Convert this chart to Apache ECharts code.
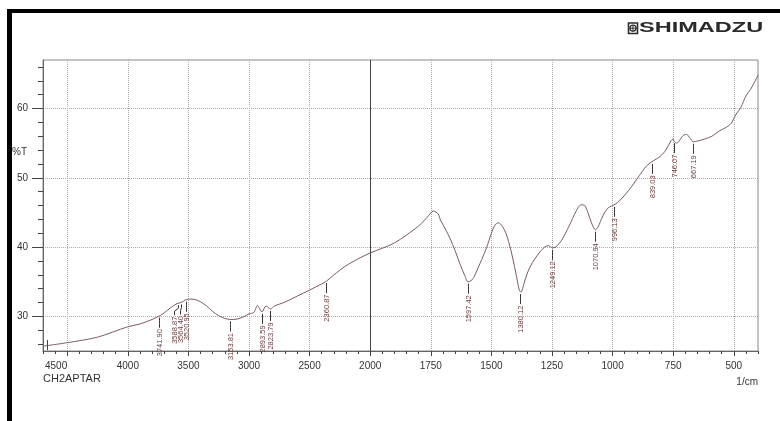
<!DOCTYPE html>
<html>
<head>
<meta charset="utf-8">
<script src="https://cdn.jsdelivr.net/npm/echarts@6/dist/echarts.min.js"></script>
<style>
  html, body { margin: 0; padding: 0; background: #fff; }
  #main { width: 780px; height: 421px; }
</style>
</head>
<body>
<div id="main"></div>
<script>
// spectrum (1/cm, %T)
var wavenumbers = [
  4700, 4500, 4250, 4000, 3900, 3800, 3740, 3700, 3650, 3600, 3560, 3520, 3480, 3440,
  3400, 3350, 3300, 3250, 3200, 3150, 3100, 3050, 3000, 2960, 2930, 2893, 2860, 2823,
  2790, 2700, 2600, 2500, 2400, 2360, 2300, 2200, 2100, 2000, 1900, 1800, 1760, 1740,
  1720, 1710, 1690, 1670, 1650, 1630, 1610, 1597, 1585, 1570, 1555, 1540, 1520, 1500,
  1485, 1470, 1455, 1440, 1420, 1400, 1385, 1378, 1365, 1350, 1330, 1300, 1280, 1265,
  1249, 1235, 1210, 1180, 1150, 1130, 1115, 1100, 1085, 1071, 1060, 1040, 1020, 1000,
  980, 950, 920, 890, 860, 839, 820, 800, 780, 760, 750, 746, 735, 720, 705, 695,
  680, 667, 650, 620, 590, 560, 530, 510, 490, 470, 450, 430, 410, 400
];
var transmittance = [
  25.7, 26.2, 27.0, 28.5, 28.9, 29.55, 30.06, 30.5, 31.2, 31.8, 32.0, 32.4, 32.5, 32.4,
  32.1, 31.5, 30.7, 30.1, 29.7, 29.55, 29.6, 29.9, 30.35, 30.56, 31.57, 30.64, 31.5, 31.07,
  31.5, 32.08, 32.94, 33.8, 34.68, 35.1, 35.98, 37.3, 38.3, 39.15, 40.6, 43.05, 44.5, 45.2,
  44.8, 43.9, 42.6, 41.2, 39.5, 37.6, 35.9, 35.0, 35.1, 35.8, 37.0, 38.2, 39.9, 42.0,
  43.2, 43.5, 43.0, 42.0, 39.6, 36.4, 33.8, 33.5, 34.8, 36.4, 37.8, 39.3, 40.0, 40.2,
  39.9, 40.0, 41.0, 43.0, 45.2, 46.1, 46.0, 44.8, 43.3, 42.5, 42.9, 44.5, 45.6, 46.0,
  46.4, 47.5, 48.8, 50.3, 51.7, 52.3, 52.7, 53.2, 54.0, 55.3, 55.6, 55.3, 55.0, 55.6, 56.2, 56.25,
  55.7, 55.2, 55.3, 55.6, 56.0, 56.75, 57.3, 57.9, 59.2, 60.2, 61.8, 62.8, 64.1, 64.8
];

// picked peaks
var peakWavenumbers = [3741.90, 3588.87, 3564.40, 3520.95, 3153.81, 2893.59, 2823.79, 2360.87,
  1597.42, 1380.12, 1249.12, 1070.94, 996.13, 839.03, 746.07, 667.19];
var peakTransmittance = [30.1, 31.9, 32.0, 32.4, 29.55, 30.64, 31.07, 35.1,
  35.0, 33.5, 39.9, 42.5, 46.1, 52.3, 55.3, 55.2];
var peakLabels = ['3741.90', '3588.87', '3564.40', '3520.95', '3153.81', '2893.59', '2823.79', '2360.87',
  '1597.42', '1380.12', '1249.12', '1070.94', '996.13', '839.03', '746.07', '667.19'];

var xTickLabels = [4500, 4000, 3500, 3000, 2500, 2000, 1750, 1500, 1250, 1000, 750, 500];
var yTickLabels = [30, 40, 50, 60];
var startMarker = 4665;

// the axis is compressed 2x above 2000 1/cm
function toU(w) { return w >= 2000 ? -(w - 2000) / 500 : (2000 - w) / 250; }
function fromU(u) { return u < 0 ? 2000 - u * 500 : 2000 - u * 250; }

var xMin = toU(4700), xMax = toU(400);
var xMajor = xTickLabels.map(toU);
var xMinor = [];
for (var k = -27; k <= 32; k++) { if (k % 5 !== 0) xMinor.push(k / 5); }
var yMinor = [];
for (var v = 26; v <= 66; v += 2) { if (v % 10 !== 0) yMinor.push(v); }

var spectrum = wavenumbers.map(function (w, i) { return [toU(w), transmittance[i]]; });
var peaks = peakWavenumbers.map(function (w, i) { return [toU(w), peakTransmittance[i]]; });

var font = 'Liberation Sans';
var dom = document.getElementById('main');
var myChart = echarts.init(dom, null, { renderer: 'canvas' });

var option = {
  animation: false,
  backgroundColor: '#fff',
  grid: { left: 43, right: 22, top: 60, bottom: 70, show: true, borderColor: '#888', borderWidth: 1 },
  xAxis: [
    {
      type: 'value', min: xMin, max: xMax,
      axisLine: { show: true, onZero: false, lineStyle: { color: '#666' } },
      axisTick: { show: true, customValues: xMajor, length: 5, lineStyle: { color: '#444' } },
      axisLabel: {
        customValues: xMajor, color: '#333', fontSize: 10, fontFamily: font, margin: 10,
        alignMinLabel: 'right',
        formatter: function (u) { return String(Math.round(fromU(u))); }
      },
      splitLine: { show: true, lineStyle: { type: 'dotted', color: '#aaa' } }
    },
    {
      type: 'value', min: xMin, max: xMax, position: 'bottom',
      axisLine: { show: false, onZero: false },
      axisTick: { show: true, customValues: xMinor, length: 3, lineStyle: { color: '#444' } },
      axisLabel: { show: false },
      splitLine: { show: false }
    }
  ],
  yAxis: [
    {
      type: 'value', min: 25, max: 67,
      axisLine: { show: true, onZero: false, lineStyle: { color: '#666' } },
      axisTick: { show: true, customValues: yTickLabels, length: 11, lineStyle: { color: '#444' } },
      axisLabel: { customValues: yTickLabels, color: '#333', fontSize: 10, fontFamily: font, margin: 15 },
      splitLine: { show: true, lineStyle: { type: 'dotted', color: '#aaa' } }
    },
    {
      type: 'value', min: 25, max: 67, position: 'left',
      axisLine: { show: false, onZero: false },
      axisTick: { show: true, customValues: yMinor, length: 5, lineStyle: { color: '#444' } },
      axisLabel: { show: false },
      splitLine: { show: false }
    }
  ],
  series: [
    {
      type: 'line',
      data: spectrum,
      smooth: 0.3,
      symbol: 'none',
      lineStyle: { color: '#7b5c60', width: 1 },
      markLine: {
        silent: true, symbol: 'none', label: { show: false },
        lineStyle: { color: '#444', type: 'solid', width: 1 },
        data: [
          { xAxis: 0 },
          [{ coord: [toU(startMarker), 25.1] }, { coord: [toU(startMarker), 26.6] }]
        ]
      }
    },
    {
      type: 'custom',
      data: peaks,
      z: 3,
      renderItem: function (params, api) {
        var i = params.dataIndex;
        var xs = peaks.map(function (p) { return api.coord(p)[0]; });
        var lx = xs.slice();
        for (var j = lx.length - 2; j >= 0; j--) lx[j] = Math.min(lx[j], lx[j + 1] - 6);
        var p = api.coord([api.value(0), api.value(1)]);
        var x0 = Math.round(p[0]) + 0.5, y0 = p[1];
        var x1 = Math.round(lx[i]) + 0.5;
        return {
          type: 'group',
          children: [
            {
              type: 'polyline',
              shape: { points: [[x0, y0 + 2], [x0, y0 + 5], [x1, y0 + 8], [x1, y0 + 12]] },
              style: { stroke: '#3a3030', lineWidth: 1, fill: null }
            },
            {
              type: 'text', x: x1, y: y0 + 13.5, rotation: Math.PI / 2,
              style: { text: peakLabels[i], font: '7.5px ' + font, fill: '#6b3b3b', align: 'right', verticalAlign: 'middle' }
            }
          ]
        };
      }
    }
  ],
  graphic: [
    { type: 'rect', z: 100, shape: { x: 7, y: 9, width: 773, height: 4 }, style: { fill: '#000' } },
    { type: 'rect', z: 100, shape: { x: 7, y: 9, width: 5, height: 412 }, style: { fill: '#000' } },
    { type: 'rect', shape: { x: 628.5, y: 23, width: 9, height: 10.5 }, style: { fill: 'none', stroke: '#2a2a2a', lineWidth: 1.6 } },
    { type: 'circle', shape: { cx: 633, cy: 28.2, r: 3 }, style: { fill: 'none', stroke: '#2a2a2a', lineWidth: 1.2 } },
    { type: 'line', shape: { x1: 633, y1: 25, x2: 633, y2: 31.5 }, style: { stroke: '#2a2a2a', lineWidth: 1 } },
    { type: 'line', shape: { x1: 629.5, y1: 28.2, x2: 636.5, y2: 28.2 }, style: { stroke: '#2a2a2a', lineWidth: 1 } },
    { type: 'text', x: 639, y: 28.5, scaleX: 1.68, style: { text: 'SHIMADZU', font: 'bold 14px ' + font, fill: '#2a2a2a', verticalAlign: 'middle' } },
    { type: 'text', x: 12, y: 152, style: { text: '%T', font: '10px ' + font, fill: '#333', verticalAlign: 'middle' } },
    { type: 'text', x: 43, y: 379, style: { text: 'CH2APTAR', font: '11px ' + font, fill: '#333', verticalAlign: 'middle' } },
    { type: 'text', x: 758, y: 382, style: { text: '1/cm', font: '10px ' + font, fill: '#333', align: 'right', verticalAlign: 'middle' } }
  ]
};

myChart.setOption(option);
window.addEventListener('resize', myChart.resize);
</script>
</body>
</html>
